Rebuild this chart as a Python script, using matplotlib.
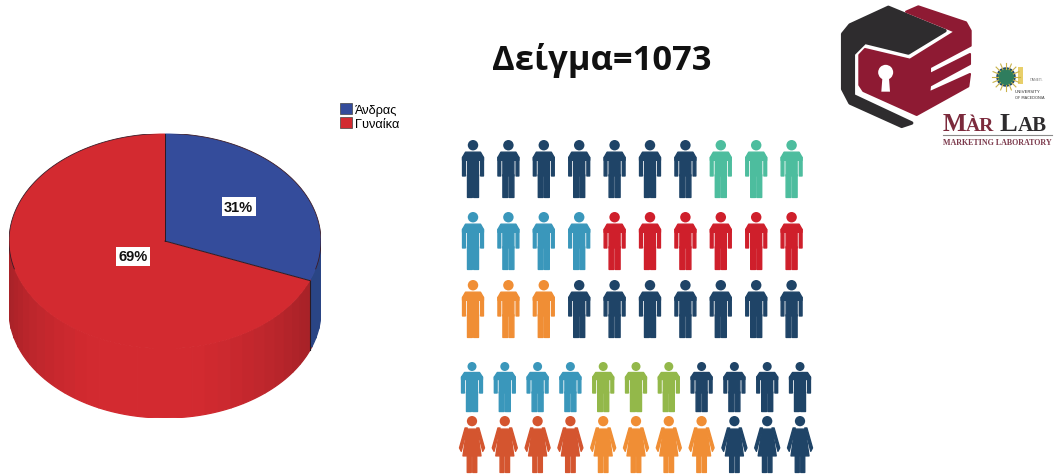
import numpy as np
import matplotlib
matplotlib.use("Agg")
import matplotlib.pyplot as plt
from matplotlib.patches import Circle, Polygon, Rectangle

W, H = 1056, 477

labels = ["Άνδρας", "Γυναίκα"]
values = [31, 69]
title = "Δείγμα=1073"

NAVY = "#1f4467"
TEAL = "#4dbd9e"
BLUE = "#3a97bb"
RED = "#cf1f2b"
ORANGE = "#f08e35"
GREEN = "#93b84a"
RUST = "#d4552f"

row1 = [(NAVY, 7), (TEAL, 3)]
row2 = [(BLUE, 4), (RED, 6)]
row3 = [(ORANGE, 3), (NAVY, 7)]
row4 = [(BLUE, 4), (GREEN, 3), (NAVY, 4)]
row5 = [(RUST, 4), (ORANGE, 4), (NAVY, 3)]


def man(ax, cx, top, h, color):
    hw = 11

    def part(pts):
        xy = [(cx + x * hw, top + y * h) for x, y in pts]
        ax.add_patch(Polygon(xy, fc=color, ec=color, lw=1, joinstyle="round", snap=False))

    ax.add_patch(Circle((cx, top + 0.09 * h), 0.09 * h, fc=color, ec="none"))
    part([(-0.95, 0.3), (-0.68, 0.21), (0.68, 0.21), (0.95, 0.3), (0.95, 0.35), (-0.95, 0.35)])
    part([(-0.95, 0.3), (-0.7, 0.3), (-0.7, 0.62), (-0.95, 0.62)])
    part([(0.95, 0.3), (0.7, 0.3), (0.7, 0.62), (0.95, 0.62)])
    part([(-0.5, 0.3), (0.5, 0.3), (0.5, 0.62), (-0.5, 0.62)])
    part([(-0.5, 0.6), (-0.06, 0.6), (-0.06, 0.99), (-0.5, 0.99)])
    part([(0.06, 0.6), (0.5, 0.6), (0.5, 0.99), (0.06, 0.99)])


def woman(ax, cx, top, h, color):
    hw = 12.5

    def part(pts):
        xy = [(cx + x * hw, top + y * h) for x, y in pts]
        ax.add_patch(Polygon(xy, fc=color, ec=color, lw=1, joinstyle="round", snap=False))

    ax.add_patch(Circle((cx, top + 0.09 * h), 0.09 * h, fc=color, ec="none"))
    part([(-0.42, 0.23), (0.42, 0.23), (0.72, 0.7), (-0.72, 0.7)])
    part([(-0.55, 0.21), (-0.38, 0.21), (-0.86, 0.62), (-1, 0.56)])
    part([(0.55, 0.21), (0.38, 0.21), (0.86, 0.62), (1, 0.56)])
    part([(-0.38, 0.68), (-0.06, 0.68), (-0.06, 0.99), (-0.38, 0.99)])
    part([(0.38, 0.68), (0.06, 0.68), (0.06, 0.99), (0.38, 0.99)])


def draw_row(ax, row, x0, dx, top, h, figure):
    x = x0
    for color, count in row:
        for i in range(count):
            figure(ax, x, top, h, color)
            x += dx


def draw_logo(ax):
    def zx(p):
        return [(830 + x / 3, y / 3) for x, y in p]

    dark = [(38, 105), (60, 78), (175, 25), (345, 95), (235, 162), (105, 130), (70, 165),
            (70, 290), (245, 372), (215, 382), (60, 312), (38, 270)]
    red = [(228, 38), (265, 22), (408, 70), (422, 95), (422, 140), (300, 205), (300, 225),
           (420, 165), (420, 195), (300, 260), (298, 280), (420, 225), (415, 262),
           (260, 348), (100, 276), (88, 258), (88, 168), (105, 150), (240, 182), (375, 98)]
    ax.add_patch(Polygon(zx(dark), fc="#2e2c2e", ec="#2e2c2e", lw=2.5, joinstyle="round"))
    ax.add_patch(Polygon(zx(red), fc="#8e1a33", ec="#8e1a33", lw=1.5, joinstyle="round"))
    ax.add_patch(Circle((830 + 167 / 3, 220 / 3), 7.5, fc="white", ec="none"))
    ax.add_patch(Polygon(zx([(158, 225), (176, 225), (180, 278), (154, 278)]), fc="white", ec="none"))

    # university seal
    for a in np.linspace(0, 2 * np.pi, 16, endpoint=False):
        ax.plot([1006 + 8 * np.cos(a), 1006 + 14 * np.cos(a)],
                [78 + 8 * np.sin(a), 78 + 14 * np.sin(a)], color="#c9b24a", lw=0.8)
    ax.add_patch(Circle((1006, 78), 9, fc="#2f7d5e", ec="#1f4467", lw=1))
    ax.add_patch(Rectangle((1018, 68), 5, 17, fc="#e8cf6a", ec="none"))
    ax.text(1030, 80, "ΠΑΝΕΠ.", fontsize=2.5, color="#777777", va="center")
    ax.text(1015, 92, "UNIVERSITY", fontsize=3.2, color="#333333", va="center")
    ax.text(1015, 98, "OF MACEDONIA", fontsize=2.7, color="#333333", va="center")

    serif = {"family": "Liberation Serif", "weight": "bold", "va": "baseline"}
    ax.text(943, 131.5, "M", fontsize=18, color="#7c2a3c", **serif)
    ax.text(966, 131.5, "ÀR", fontsize=14, color="#7c2a3c", **serif)
    ax.text(1000, 131.5, "L", fontsize=19, color="#2e2c2e", **serif)
    ax.text(1018, 131.5, "AB", fontsize=15, color="#2e2c2e", **serif)
    ax.plot([943, 1052], [135.5, 135.5], color="#8a8a8a", lw=0.8)
    ax.text(943, 143, "MARKETING LABORATORY", fontsize=5.8, family="Liberation Serif",
            weight="bold", color="#7c3a4c", va="center")


def draw_pie(fig):
    left, right, top, bottom = 9, 321, 134.5, 419
    ry = 108.5
    depth = 70 / ry
    ax = fig.add_axes([left / W, 1 - bottom / H, (right - left) / W, (bottom - top) / H])
    wedges, _ = ax.pie(values, colors=["#344c9b", "#d32a30"], startangle=90, counterclock=False,
                       radius=1, wedgeprops={"edgecolor": "none", "linewidth": 0})
    ax.set_aspect("auto")
    ax.set_xlim(-1, 1)
    ax.set_ylim(-1 - depth, 1)

    split = 90 - values[0] / sum(values) * 360
    # outer wall, split where the two slices meet
    edges = np.linspace(180, 360, 37)
    for a, b in zip(edges[:-1], edges[1:]):
        t = np.radians(np.linspace(a, b, 6))
        xs = np.cos(t)
        ys = np.sin(t)
        mid = (a + b) / 2
        if mid > 360 + split:
            col = "#2a4585"
        else:
            c = np.clip((abs(mid - 262) - 18) / 55, 0, 1) ** 1.2
            col = np.array([0xd3, 0x2a, 0x30]) * (1 - c) + np.array([0xa8, 0x22, 0x28]) * c
            col = tuple(col / 255)
        ax.fill(np.r_[xs, xs[::-1]], np.r_[ys, ys[::-1] - depth], fc=col, ec=col, lw=0.9, zorder=0.5)

    t = np.radians(360 + split)
    ax.plot([np.cos(t)] * 2, [np.sin(t), np.sin(t) - depth], color="#2a1a22", lw=0.8, zorder=0.6)
    # rim of the top face and the two slice edges
    arc = np.radians(np.linspace(-15, 195, 200))
    ax.plot(np.cos(arc), np.sin(arc), color="#3a1a26", lw=0.6, zorder=2)
    ax.plot([0, 0], [0, 1], color="#2a1a22", lw=0.7, zorder=2)
    ax.plot([0, np.cos(t)], [0, np.sin(t)], color="#2a1a22", lw=0.7, zorder=2)

    radii = [0.57, 0.25]
    angle = 90
    for v, r in zip(values, radii):
        sweep = v / sum(values) * 360
        mid = np.radians(angle - sweep / 2)
        ax.text(r * np.cos(mid), r * np.sin(mid), f"{v}%", ha="center", va="center",
                fontsize=10.5, weight="bold", family="Liberation Sans", color="#111111",
                bbox={"fc": "white", "ec": "none", "pad": 1.8})
        angle -= sweep

    leg = fig.legend(wedges, labels, loc="upper left", bbox_to_anchor=(336 / W, 1 - 100 / H), frameon=False,
                     prop={"family": "Liberation Sans", "size": 9.2}, handlelength=0.95, handleheight=0.95,
                     handletextpad=0.25, labelspacing=0.12, borderpad=0.3, borderaxespad=0)
    for handle in leg.legend_handles:
        handle.set_edgecolor("#444444")
        handle.set_linewidth(0.5)


fig = plt.figure(figsize=(W / 100, H / 100), dpi=100)
canvas = fig.add_axes([0, 0, 1, 1])
canvas.set_xlim(0, W)
canvas.set_ylim(H, 0)
canvas.axis("off")

canvas.text(602, 60, title, fontsize=24.8, weight="bold", family="Open Sans", color="#111111",
            ha="center", va="center")

draw_row(canvas, row1, 473, 35.4, 141, 58, man)
draw_row(canvas, row2, 473, 35.4, 213, 58, man)
draw_row(canvas, row3, 473, 35.4, 281, 58, man)
draw_row(canvas, row4, 472, 32.8, 363, 50, man)
draw_row(canvas, row5, 472, 32.8, 417, 57, woman)

draw_logo(canvas)
draw_pie(fig)

fig.savefig("out.png", dpi=100)
